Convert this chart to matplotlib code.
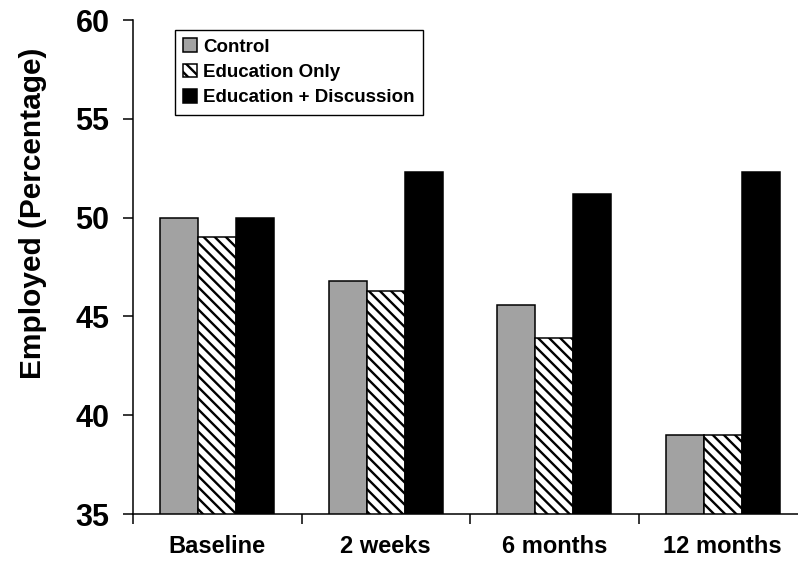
import matplotlib
matplotlib.use("Agg")
import matplotlib.pyplot as plt
import numpy as np

plt.rcParams['font.family'] = ['Liberation Sans', 'DejaVu Sans']
plt.rcParams['font.weight'] = 'bold'
plt.rcParams['hatch.linewidth'] = 1.7

CATEGORIES = ["Baseline", "2 weeks", "6 months", "12 months"]
SERIES = ["Control", "Education Only", "Education + Discussion"]
CONTROL = [50.0, 46.8, 45.6, 39.0]
EDU_ONLY = [49.0, 46.3, 43.9, 39.0]
EDU_DISC = [50.0, 52.3, 51.2, 52.3]
Y_TICKS = [35, 40, 45, 50, 55, 60]

fig = plt.figure(figsize=(7.98, 5.62), dpi=100)
# right edge of the axes runs past the figure, as in the cropped original
ax = fig.add_axes([0.1667, 0.0854, 0.8446, 0.879])

x = np.arange(len(CATEGORIES))
w = 0.226
styles = [
    dict(color="#a2a2a2", hatch=None),
    dict(color="white", hatch="\\\\\\"),
    dict(color="black", hatch=None),
]
for i, (vals, name, st) in enumerate(zip([CONTROL, EDU_ONLY, EDU_DISC], SERIES, styles)):
    ax.bar(x + (i - 1) * w, vals, w, bottom=0, color=st["color"], hatch=st["hatch"],
           edgecolor="black", linewidth=1.1, label=name)

ax.set_ylim(35, 60)
ax.set_xlim(-0.5, 3.5)
ax.set_yticks(Y_TICKS)
ax.set_xticks(x)
ax.set_xticklabels(CATEGORIES)
ax.set_xticks(np.arange(-0.5, 4.0, 1.0), minor=True)

for s in ["top", "right"]:
    ax.spines[s].set_visible(False)
ax.spines["left"].set_linewidth(1.1)
ax.spines["bottom"].set_linewidth(1.1)

ax.tick_params(axis="y", direction="out", length=7, width=1.1, labelsize=22, pad=10)
ax.tick_params(axis="x", which="major", length=0, labelsize=17, pad=15)
ax.tick_params(axis="x", which="minor", direction="out", length=7, width=1.1)

ax.set_ylabel("Employed (Percentage)", fontsize=21.5, fontweight="bold")
ax.yaxis.set_label_coords(-0.128, 0.609)

leg = ax.legend(loc="upper left", bbox_to_anchor=(0.062, 0.98), borderaxespad=0,
                fontsize=13.5, frameon=True, fancybox=False, framealpha=1,
                edgecolor="black", handlelength=0.75, handleheight=0.75,
                handletextpad=0.3, labelspacing=0.42, borderpad=0.45)
leg.get_frame().set_linewidth(1.0)

fig.savefig("out.png", dpi=100)
